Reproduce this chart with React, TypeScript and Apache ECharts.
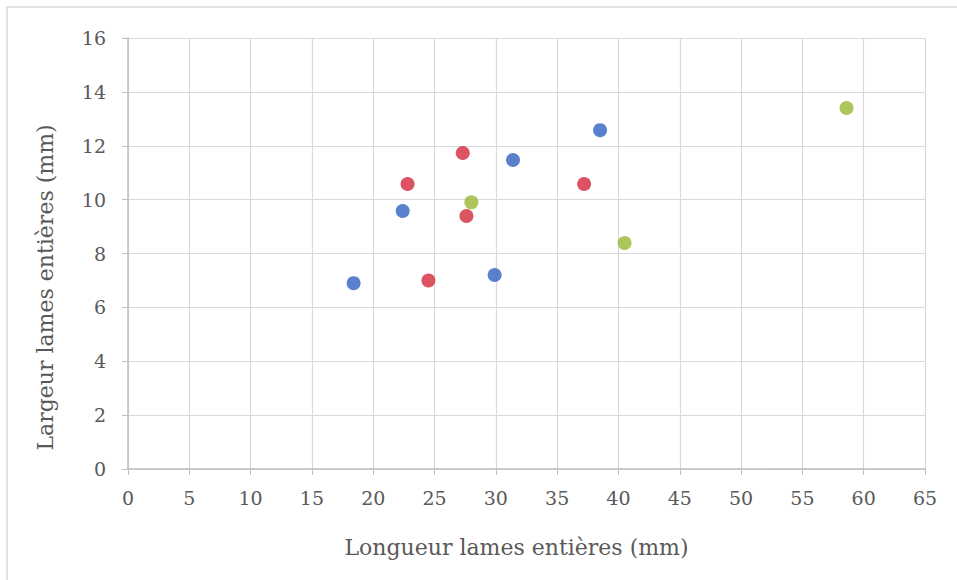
import React, { useEffect, useRef } from "react";
import * as echarts from "echarts";

const blueX = [18.4, 22.4, 29.9, 31.4, 38.5];
const blueY = [6.9, 9.58, 7.2, 11.47, 12.58];
const redX = [22.8, 24.5, 27.3, 27.6, 37.2];
const redY = [10.58, 7.0, 11.73, 9.39, 10.58];
const greenX = [28.0, 40.5, 58.6];
const greenY = [9.9, 8.39, 13.4];

const xTitle = "Longueur lames entières (mm)";
const yTitle = "Largeur lames entières (mm)";

const pairs = (xs: number[], ys: number[]) => xs.map((x, i) => [x, ys[i]]);

export default function App() {
  const ref = useRef<HTMLDivElement>(null);
  useEffect(() => {
    if (!ref.current) return;
    const chart = echarts.init(ref.current, undefined, { renderer: "svg" });
    const font = "'DejaVu Serif', serif";
    const mk = (name: string, xs: number[], ys: number[], color: string) => ({
      name,
      type: "scatter",
      data: pairs(xs, ys),
      symbolSize: 14,
      itemStyle: { color },
    });
    chart.setOption({
      animation: false,
      backgroundColor: "#ffffff",
      textStyle: { fontFamily: font },
      grid: { left: 128, right: 32, top: 38, bottom: 111 },
      graphic: [
        {
          type: "rect",
          shape: { x: 7, y: 7, width: 960, height: 580 },
          style: { fill: "none", stroke: "#d9d9d9", lineWidth: 1.5 },
          silent: true,
        },
      ],
      xAxis: {
        type: "value",
        min: 0,
        max: 65,
        interval: 5,
        name: xTitle,
        nameLocation: "middle",
        nameGap: 67,
        nameTextStyle: { fontFamily: font, fontSize: 22, color: "#595959", padding: [0, 20, 0, 0] },
        axisLine: { show: true, lineStyle: { color: "#bfbfbf", width: 1.5 } },
        axisTick: { show: true, length: 6, lineStyle: { color: "#bfbfbf" } },
        axisLabel: { fontFamily: font, fontSize: 19, color: "#595959", margin: 19 },
        splitLine: { show: true, lineStyle: { color: "#d9d9d9", width: 1.2 } },
      },
      yAxis: {
        type: "value",
        min: 0,
        max: 16,
        interval: 2,
        name: yTitle,
        nameLocation: "middle",
        nameGap: 72,
        nameRotate: 90,
        nameTextStyle: { fontFamily: font, fontSize: 22, color: "#595959", padding: [0, 68, 0, 0] },
        axisLine: { show: true, lineStyle: { color: "#bfbfbf", width: 1.5 } },
        axisTick: { show: true, length: 6, lineStyle: { color: "#bfbfbf" } },
        axisLabel: { fontFamily: font, fontSize: 19, color: "#595959", margin: 22 },
        splitLine: { show: true, lineStyle: { color: "#d9d9d9", width: 1.2 } },
      },
      series: [
        mk("Bleu", blueX, blueY, "#2f62c2"),
        mk("Rouge", redX, redY, "#d3283b"),
        mk("Vert", greenX, greenY, "#98b732"),
      ],
    });
    return () => chart.dispose();
  }, []);
  return (
    <div
      ref={ref}
      style={{ position: "fixed", left: 0, top: 0, width: 957, height: 580 }}
    />
  );
}
